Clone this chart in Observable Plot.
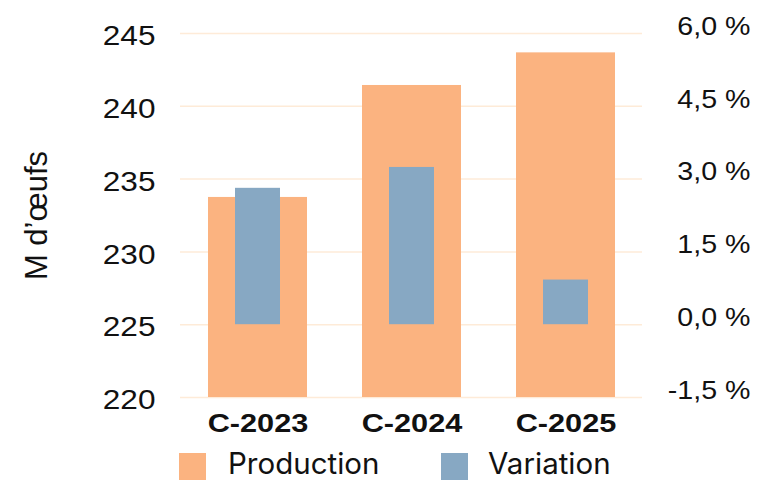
<!DOCTYPE html>
<html><head><meta charset="utf-8">
<script src="https://cdn.jsdelivr.net/npm/d3@7"></script>
<script src="https://cdn.jsdelivr.net/npm/@observablehq/plot@0.6"></script>
<style>
body{margin:0;background:#fff;}
#chart{width:757px;height:481px;position:relative;font-family:"Liberation Sans",Arial,sans-serif;}
#legend{position:relative;height:39px;width:757px;}
.sw{position:absolute;width:27px;height:27px;top:11px;}
.lt{position:absolute;top:4px;font-family:Inter,"Liberation Sans",sans-serif;font-size:29.5px;line-height:35px;color:#111;white-space:nowrap;}
</style></head><body><div id="chart"></div>
<script>
const categories = ["C-2023", "C-2024", "C-2025"];
const production = [233.74, 241.43, 243.67];       // M d'œufs
const variation = [2.81, 3.24, 0.92];              // %
const leftTicks = [220, 225, 230, 235, 240, 245];
const rightTicksPct = [-1.5, 0, 1.5, 3, 4.5, 6];
const rightTickLabels = ["-1,5 %", "0,0 %", "1,5 %", "3,0 %", "4,5 %", "6,0 %"];
const seriesNames = ["Production", "Variation"];
const seriesColors = ["#FBB380", "#87A8C3"];

// right axis (%) aligned to left axis: -1.5% ↔ 220, 6.0% ↔ 245
const pctToY = p => 225 + p * (25 / 7.5);
const rows = categories.map((c, i) => ({cat: c, prod: production[i], v0: pctToY(0), v1: pctToY(variation[i])}));

const plot = Plot.plot({
  width: 757,
  height: 442,
  marginTop: 33,
  marginBottom: 45,
  marginLeft: 180,
  marginRight: 115,
  style: {fontFamily: '"Liberation Sans", Arial, sans-serif', background: "transparent", color: "#111"},
  x: {domain: categories, paddingInner: 0.36, paddingOuter: 0.18, label: null},
  y: {domain: [220, 245], label: null},
  marks: [
    Plot.gridY(leftTicks, {stroke: "#FEEBD8", strokeOpacity: 1, strokeWidth: 1.5}),
    Plot.barY(rows, {x: "cat", y1: 220, y2: "prod", fill: seriesColors[0]}),
    Plot.barY(rows, {x: "cat", y1: "v0", y2: "v1", fill: seriesColors[1], insetLeft: 27, insetRight: 27}),
    Plot.axisY(leftTicks, {anchor: "left", tickSize: 0, tickPadding: 25, fontSize: 27, dy: 3, label: null, tickFormat: d => String(d)}),
    Plot.axisY(rightTicksPct.map(pctToY), {anchor: "right", tickSize: 0, tickPadding: 108, textAnchor: "end", fontSize: 26, dy: -7, label: null,
      tickFormat: d => rightTickLabels[rightTicksPct.findIndex(p => Math.abs(pctToY(p) - d) < 1e-6)]}),
    Plot.axisX({anchor: "bottom", tickSize: 0, tickPadding: 16, fontSize: 26, fontWeight: "bold", label: null}),
    Plot.text(["M d’œufs"], {frameAnchor: "left", textAnchor: "middle", rotate: -90, dx: -143, fontSize: 31, fill: "#111"})
  ]
});

// horizontal stretch of label glyphs, as in the reference
function stretch(sel, s) {
  plot.querySelectorAll(sel).forEach(t => {
    const tr = t.getAttribute("transform");
    if (tr) t.setAttribute("transform", tr + ` scale(${s},1)`);
    else {
      const x = +t.getAttribute("x") || 0, y = +t.getAttribute("y") || 0;
      t.removeAttribute("x"); t.removeAttribute("y");
      t.setAttribute("transform", `translate(${x},${y}) scale(${s},1)`);
    }
  });
}
const yGroups = plot.querySelectorAll('g[aria-label="y-axis tick label"]');
stretch('g[aria-label="x-axis tick label"] text', 1.18);
if (yGroups[0]) { yGroups[0].setAttribute("data-k", "l"); stretch('g[data-k="l"] text', 1.17); }
if (yGroups[1]) { yGroups[1].setAttribute("data-k", "r"); stretch('g[data-k="r"] text', 1.1); }

const chart = document.getElementById("chart");
chart.appendChild(plot);

const legend = document.createElement("div");
legend.id = "legend";
const swX = [179, 441], txX = [228, 488];
seriesNames.forEach((n, i) => {
  const sw = document.createElement("div");
  sw.className = "sw"; sw.style.left = swX[i] + "px"; sw.style.background = seriesColors[i];
  const t = document.createElement("div");
  t.className = "lt"; t.style.left = txX[i] + "px"; t.textContent = n;
  legend.appendChild(sw); legend.appendChild(t);
});
chart.appendChild(legend);
</script></body></html>
